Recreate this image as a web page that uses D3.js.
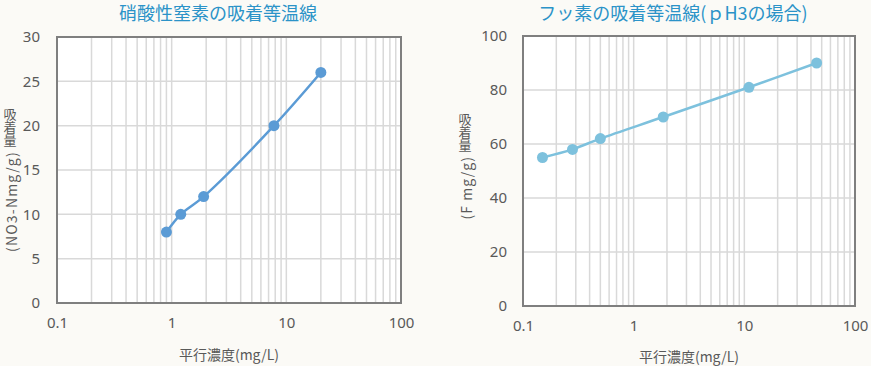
<!DOCTYPE html>
<html>
<head>
<meta charset="utf-8">
<script src="https://cdn.jsdelivr.net/npm/d3@7"></script>
<style>
  html, body { margin: 0; padding: 0; background: #fbfaf6; }
  svg { display: block; }
  text { font-family: "Noto Sans CJK JP", "Noto Sans", sans-serif; }
</style>
</head>
<body>
<div id="chart"></div>
<script>
// --- data ---
const nitrateConc = [0.9, 1.2, 1.9, 7.8, 20];
const nitrateAds = [8, 10, 12, 20, 26];

const fluorideConc = [0.15, 0.28, 0.5, 1.85, 11, 45];
const fluorideAds = [55, 58, 62, 70, 81, 90];

const xTickValues = [0.1, 1, 10, 100];
const nitrateYTicks = [0, 5, 10, 15, 20, 25, 30];
const fluorideYTicks = [0, 20, 40, 60, 80, 100];

const W = 871, H = 366;

const svg = d3.select('#chart').append('svg')
    .attr('width', W)
    .attr('height', H);

svg.append('rect').attr('width', W).attr('height', H).attr('fill', '#fbfaf6');

function drawChart(cfg) {
    const g = svg.append('g');

    const x = d3.scaleLog().domain([0.1, 100]).range([cfg.left, cfg.right]);
    const y = d3.scaleLinear().domain([0, cfg.yMax]).range([cfg.bottom, cfg.top]);

    // plot background
    g.append('rect')
        .attr('x', cfg.left).attr('y', cfg.top)
        .attr('width', cfg.right - cfg.left)
        .attr('height', cfg.bottom - cfg.top)
        .attr('fill', '#ffffff');

    // vertical grid: every 1..9 in each decade
    const minor = [];
    [0.1, 1, 10].forEach(d => {
        for (let k = 1; k <= 9; k++) minor.push(d * k);
    });
    g.selectAll('.vgrid').data(minor).enter()
        .append('line')
        .attr('class', 'vgrid')
        .attr('x1', d => x(d)).attr('x2', d => x(d))
        .attr('y1', cfg.top).attr('y2', cfg.bottom)
        .attr('stroke', '#d9d9d9')
        .attr('stroke-width', 1.5);

    // horizontal grid
    g.selectAll('.hgrid').data(cfg.yTicks).enter()
        .append('line')
        .attr('class', 'hgrid')
        .attr('x1', cfg.left).attr('x2', cfg.right)
        .attr('y1', d => y(d)).attr('y2', d => y(d))
        .attr('stroke', '#d9d9d9')
        .attr('stroke-width', 1.5);

    // frame
    g.append('rect')
        .attr('x', cfg.left).attr('y', cfg.top)
        .attr('width', cfg.right - cfg.left)
        .attr('height', cfg.bottom - cfg.top)
        .attr('fill', 'none')
        .attr('stroke', '#7f7f7f')
        .attr('stroke-width', 2);

    // y axis labels
    const yAxis = d3.axisLeft(y).tickValues(cfg.yTicks).tickSize(0).tickPadding(cfg.yPad);
    const ya = g.append('g').attr('transform', `translate(${cfg.left},0)`).call(yAxis);
    ya.select('.domain').remove();
    ya.selectAll('text')
        .attr('fill', '#595959')
        .style('font-size', '15px')
        .style('font-family', '"Noto Sans", sans-serif');

    // x axis labels
    const xAxis = d3.axisBottom(x).tickValues(xTickValues).tickFormat(d => String(d)).tickSize(0).tickPadding(cfg.xPad);
    const xa = g.append('g').attr('transform', `translate(0,${cfg.bottom})`).call(xAxis);
    xa.select('.domain').remove();
    xa.selectAll('text')
        .attr('fill', '#595959')
        .style('font-size', '15px')
        .style('font-family', '"Noto Sans", sans-serif');

    // data line
    const pts = cfg.xs.map((v, i) => [v, cfg.ys[i]]);
    const line = d3.line()
        .x(d => x(d[0]))
        .y(d => y(d[1]))
        .curve(d3.curveCatmullRom.alpha(0.5));

    g.append('path')
        .datum(pts)
        .attr('d', line)
        .attr('fill', 'none')
        .attr('stroke', cfg.color)
        .attr('stroke-width', 2.5);

    g.selectAll('.pt').data(pts).enter()
        .append('circle')
        .attr('class', 'pt')
        .attr('cx', d => x(d[0]))
        .attr('cy', d => y(d[1]))
        .attr('r', 5.5)
        .attr('fill', cfg.color);

    // title
    g.append('text')
        .attr('x', cfg.titleX).attr('y', 20)
        .attr('text-anchor', 'middle')
        .attr('fill', '#2b93c8')
        .style('font-size', '18px')
        .text(cfg.title);

    // x axis title
    g.append('text')
        .attr('x', (cfg.left + cfg.right) / 2).attr('y', cfg.xTitleY)
        .attr('text-anchor', 'middle')
        .attr('fill', '#595959')
        .style('font-size', '14px')
        .text('平行濃度(mg/L)');

    // y axis title: upright kanji written vertically, then the unit rotated
    g.append('text')
        .attr('x', cfg.yTitleX)
        .attr('y', cfg.yTitleTop)
        .attr('fill', '#595959')
        .style('font-size', '13px')
        .style('writing-mode', 'vertical-rl')
        .style('text-orientation', 'upright')
        .text('吸着量');

    const latinTop = cfg.yTitleTop + 3 * 13 + 4;
    g.append('text')
        .attr('transform', `translate(${cfg.yTitleX + 7},${latinTop}) rotate(-90)`)
        .attr('text-anchor', 'end')
        .attr('fill', '#595959')
        .style('font-size', '14px')
        .style('letter-spacing', cfg.unitSpacing)
        .text(cfg.yUnit);
}

drawChart({
    left: 57, right: 401, top: 37, bottom: 303,
    yMax: 30, yTicks: nitrateYTicks, yPad: 17, xPad: 14,
    xs: nitrateConc, ys: nitrateAds,
    color: '#5b9bd5',
    title: '硝酸性窒素の吸着等温線', titleX: 218,
    xTitleY: 360,
    yTitleX: 10, yTitleTop: 108, yUnit: '(NO3-Nmg/g)', unitSpacing: '1.2px'
});

drawChart({
    left: 523, right: 855, top: 36, bottom: 306,
    yMax: 100, yTicks: fluorideYTicks, yPad: 16, xPad: 14,
    xs: fluorideConc, ys: fluorideAds,
    color: '#7dc1dd',
    title: 'フッ素の吸着等温線(ｐH3の場合)', titleX: 673,
    xTitleY: 362,
    yTitleX: 465, yTitleTop: 113, yUnit: '(F mg/g)', unitSpacing: '1px'
});
</script>
</body>
</html>
